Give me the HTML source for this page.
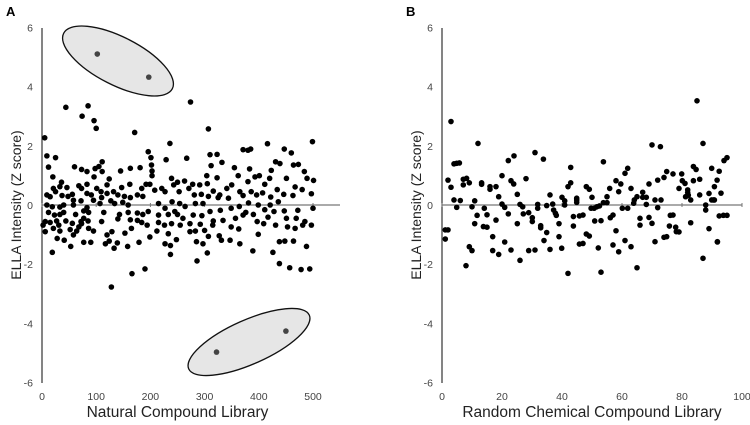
<!DOCTYPE html>
<html><head><meta charset="utf-8"><style>
body{margin:0;background:#fff;}
svg{display:block;font-family:"Liberation Sans",sans-serif;}
</style></head><body>
<svg id="chart" width="750" height="425" viewBox="0 0 750 425">
<g id="gl"></g>
<g id="gr"></g>
</svg>
<script>
const yTicks=[6,4,2,0,-2,-4,-6];
const leftXTicks=[0,100,200,300,400,500];
const rightXTicks=[0,20,40,60,80,100];
const leftX=[5,100,9,25,12,60,73,83,98,105,111,111,20,96,36,33,21,25,9,15,46,56,68,73,83,83,91,101,109,120,120,110,37,48,58,72,95,9,19,33,40,58,83,107,114,12,23,40,62,77,86,6,15,27,44,56,72,85,110,6,31,33,52,64,73,58,86,28,41,53,77,90,117,120,95,19,2,21,68,77,33,
44,85,74,96,274,
171,236,196,201,229,202,203,203,145,163,181,124,147,162,184,192,199,132,140,152,163,176,186,208,221,227,239,243,127,134,149,159,215,240,227,143,159,176,186,196,215,233,245,140,163,176,184,194,215,226,239,129,153,165,212,199,233,124,139,158,179,227,133,237,237,166,190,128,
307,267,310,323,332,312,355,371,304,323,362,250,263,278,291,305,316,328,341,350,365,371,253,271,281,294,307,325,344,254,264,283,297,310,329,349,364,250,260,279,295,316,334,357,371,255,273,292,315,349,363,273,283,300,327,307,248,285,297,331,347,365,305,286,
416,447,460,499,380,385,383,431,439,464,473,393,401,423,420,451,484,489,501,380,411,434,446,467,480,497,386,396,407,422,463,381,399,421,436,376,390,411,428,447,472,500,397,417,431,451,469,485,497,409,453,467,481,399,438,448,464,488,389,426,438,457,478,494];
const leftY=[2.27,2.59,1.66,1.6,1.28,1.29,1.2,1.13,1.23,1.3,1.46,1.13,0.95,0.95,0.77,0.62,0.56,0.45,0.34,0.28,0.59,0.36,0.65,0.56,0.7,0.39,0.34,0.56,0.45,0.68,0.39,0.25,0.32,0.29,0.16,0.14,0.16,0,-0.06,-0.07,0,0,-0.09,0.05,-0.25,-0.25,-0.34,-0.25,-0.32,-0.2,-0.25,-0.56,-0.59,-0.54,-0.54,-0.62,-0.56,-0.54,-0.56,-0.9,-0.68,-0.88,-0.83,-0.88,-0.63,-1.01,-0.79,-1.13,-1.19,-1.4,-1.26,-1.26,-1.31,-1.01,-0.88,-1.6,-0.68,-0.79,-0.74,-0.45,-0.32,
3.3,3.35,3.0,2.85,3.48,
2.45,2.08,1.8,1.6,1.53,1.35,1.15,0.99,1.15,1.24,1.26,0.88,0.59,0.7,0.56,0.7,0.7,0.45,0.34,0.29,0.25,0.34,0.29,0.5,0.56,0.45,0.9,0.68,0.14,0.05,0.09,0,0.05,0.11,-0.11,-0.32,-0.25,-0.27,-0.32,-0.22,-0.34,-0.32,-0.22,-0.47,-0.5,-0.52,-0.59,-0.68,-0.59,-0.68,-0.63,-0.9,-0.95,-0.79,-0.88,-1.08,-0.97,-1.22,-1.28,-1.4,-1.26,-1.31,-1.46,-1.37,-1.67,-2.32,-2.16,-2.77,
2.57,1.58,1.7,1.71,1.44,1.33,1.26,1.87,0.99,0.92,0.99,0.77,0.81,0.7,0.68,0.72,0.47,0.34,0.56,0.68,0.45,0.32,0.45,0.56,0.34,0.36,0.29,0.25,0.23,0.05,-0.05,0.05,0.05,-0.22,-0.18,-0.11,-0.05,-0.32,-0.45,-0.34,-0.36,-0.54,-0.52,-0.45,-0.34,-0.68,-0.63,-0.65,-0.68,-0.74,-0.81,-0.9,-0.88,-0.86,-1.04,-1.06,-1.17,-1.24,-1.31,-1.19,-1.19,-1.31,-1.62,-1.89,
2.07,1.89,1.76,2.14,1.85,1.89,1.22,1.46,1.4,1.35,1.37,0.95,0.99,1.17,0.9,0.9,1.13,0.9,0.83,0.79,0.7,0.52,0.36,0.61,0.52,0.38,0.45,0.34,0.41,0.27,0.32,0.07,0,0,0.11,-0.25,-0.32,-0.16,-0.22,-0.2,-0.18,-0.11,-0.56,-0.41,-0.68,-0.45,-0.45,-0.56,-0.68,-0.63,-0.74,-0.79,-0.68,-0.99,-1.24,-1.22,-1.22,-1.4,-1.55,-1.6,-1.98,-2.12,-2.18,-2.16];
const hitX=[102,197,322,450];
const hitY=[5.1,4.32,-4.97,-4.26];
const rightX=[3.0,12.0,4.0,4.9,5.8,2.0,3.0,4.0,4.9,6.1,7.1,7.1,8.2,9.1,10.9,10.0,11.7,10.9,13.8,15.0,16.9,14.1,15.0,13.2,13.2,16.0,16.0,18.0,18.9,20.0,20.0,20.9,22.1,18.0,20.9,16.9,18.9,23.0,25.1,26.0,22.1,24.0,23.0,23.9,25.1,26.0,26.9,27.1,28.0,28.9,30.1,30.1,28.9,31.0,31.0,33.8,31.9,31.9,32.9,32.9,34.9,34.0,36.0,34.9,36.9,37.2,37.8,38.1,39.0,39.0,39.9,36.0,40.0,40.9,40.9,42.0,42.9,42.9,43.8,43.8,44.9,44.9,45.8,45.8,42.0,8.0,9.1,10.0,1.1,2.0,1.1,
44.9,47.0,48.1,49.1,50.0,49.7,50.7,51.6,52.5,50.9,53.0,53.8,55.0,53.8,55.0,48.1,49.1,47.0,52.1,53.0,55.9,57.0,56.1,58.0,59.6,58.9,61.0,61.9,63.0,60.1,61.9,58.0,57.0,58.9,61.0,63.0,63.9,64.1,65.0,66.9,66.9,68.1,68.1,66.0,66.0,69.0,70.0,69.0,70.0,72.8,71.0,73.0,71.9,71.9,74.0,74.9,77.0,76.1,77.0,75.8,77.9,78.1,79.0,74.9,74.0,71.0,65.0,79.0,79.9,80.1,81.0,81.9,81.2,81.9,82.9,82.1,82.9,83.8,83.8,84.7,85.9,85.9,85.0,87.0,87.9,87.9,89.0,89.0,89.9,89.9,90.8,90.8,91.7,91.8,92.4,92.4,87.0,
94,95,93,93.8,95,91.8,90.5];
const rightY=[2.82,2.08,1.39,1.41,1.42,0.84,0.6,0.17,-0.08,0.15,0.68,0.87,0.9,0.75,0.14,-0.06,-0.35,-0.63,-0.73,-0.75,-1.07,-0.11,-0.33,0.75,0.7,0.62,0.53,0.62,0.28,0.99,0.03,-0.08,-0.3,-0.51,-1.25,-1.54,-1.67,-1.52,-0.63,-1.87,1.5,1.66,0.82,0.71,0.36,0.02,-0.06,-0.3,0.89,-0.26,-0.43,-0.56,-1.54,-1.52,1.77,1.55,0.02,-0.11,-0.7,-0.77,-0.93,-1.2,0.34,-0.02,0.03,-0.17,-0.28,-0.35,-0.63,-1.07,-1.46,-1.5,0.26,0.14,0,0.62,0.75,1.27,-0.39,-0.71,0.17,0.09,-0.37,-1.32,-2.31,-2.05,-1.41,-1.54,-0.84,-0.84,-1.15,
0.23,-0.34,0.62,0.53,0.26,-0.11,-0.11,-0.06,-0.03,-0.54,-0.53,1.46,0.28,0.08,0.08,-0.98,-1.05,-1.3,-1.45,-2.27,0.56,-0.34,-0.43,0.82,0.71,0.45,1.07,1.24,0.56,-0.11,-0.11,-0.87,-1.35,-1.58,-1.2,-1.41,0.06,0.17,0.28,0.43,0.26,0.26,0.02,-0.45,-0.68,-0.42,-0.62,0.71,2.03,1.97,0.17,0.17,-0.09,0.84,0.93,1.13,1.05,-0.35,-0.34,-0.71,-0.75,-0.9,-0.91,-1.07,-1.09,-1.24,-2.12,0.56,1.05,0.82,0.73,0.51,0.28,0.42,0.17,0.33,-0.6,0.82,1.3,1.2,0.87,0.34,3.52,2.08,0,-0.17,0.39,-0.8,1.24,0.17,0.17,0.62,0.84,-1.24,-0.37,1.14,-1.8,
1.5,1.6,0.4,-0.35,-0.35,-1.25,0.17];

const NS='http://www.w3.org/2000/svg';
function mk(tag,attrs,parent){const e=document.createElementNS(NS,tag);for(const k in attrs)e.setAttribute(k,attrs[k]);parent.appendChild(e);return e;}
const ly=v=>205-v*29.6;
function panel(g,ax0,xScale,xTicks,letter,title,xs,ys,zeroEnd){
  const lab=mk('text',{x:ax0-36,y:16,'font-size':13,'font-weight':'bold',fill:'#000'},g);lab.textContent=letter;
  
  
  const ya=mk('line',{x1:ax0,y1:28,x2:ax0,y2:383,stroke:'#333','stroke-width':1.2},g);
  
  
  const zl=mk('line',{x1:ax0,y1:205,x2:zeroEnd,y2:205,stroke:'#777','stroke-width':1.2},g);
  
  
  yTicks.forEach(t=>{const e=mk('text',{x:ax0-9,y:ly(t)+4,'font-size':10.5,'text-anchor':'end',fill:'#444'},g);e.textContent=t;
    
    });
  xTicks.forEach(t=>{const e=mk('text',{x:xScale(t),y:400,'font-size':10.5,'text-anchor':'middle',fill:'#444'},g);e.textContent=t;
    
    
    const tk=mk('line',{x1:xScale(t),y1:203,x2:xScale(t),y2:207,stroke:'#777'},g);
    
    });
  const yt=mk('text',{x:0,y:0,'font-size':14,'text-anchor':'middle',fill:'#222',transform:`translate(${ax0-21},205) rotate(-90)`},g);
  yt.textContent='ELLA Intensity (Z score)';
  
  
  const xt=mk('text',{x:xScale(xTicks[xTicks.length-1])/2+ax0/2,y:417,'font-size':15.5,'text-anchor':'middle',fill:'#222'},g);
  xt.textContent=title;
  
  
  for(let i=0;i<xs.length;i++){const c=mk('circle',{cx:xScale(xs[i]),cy:ly(ys[i]),r:2.8,fill:'#000'},g);
    
    }
}
const lxs=v=>42+v*0.542, rxs=v=>442+v*3.0;
const gl=document.getElementById('gl'), gr=document.getElementById('gr');
panel(gl,42,lxs,leftXTicks,'A','Natural Compound Library',leftX,leftY,340);
panel(gr,442,rxs,rightXTicks,'B','Random Chemical Compound Library',rightX,rightY,742);
const e1=mk('ellipse',{cx:118,cy:61,rx:61,ry:24,transform:'rotate(27 118 61)',fill:'#e6e6e6',stroke:'#111','stroke-width':1.3},gl);


const e2=mk('ellipse',{cx:249,cy:342,rx:66,ry:22,transform:'rotate(-24 249 342)',fill:'#e6e6e6',stroke:'#111','stroke-width':1.3},gl);


for(let i=0;i<hitX.length;i++){const c=mk('circle',{cx:lxs(hitX[i]),cy:ly(hitY[i]),r:2.8,fill:'#444'},gl);
  
  }
</script>
</body></html>
